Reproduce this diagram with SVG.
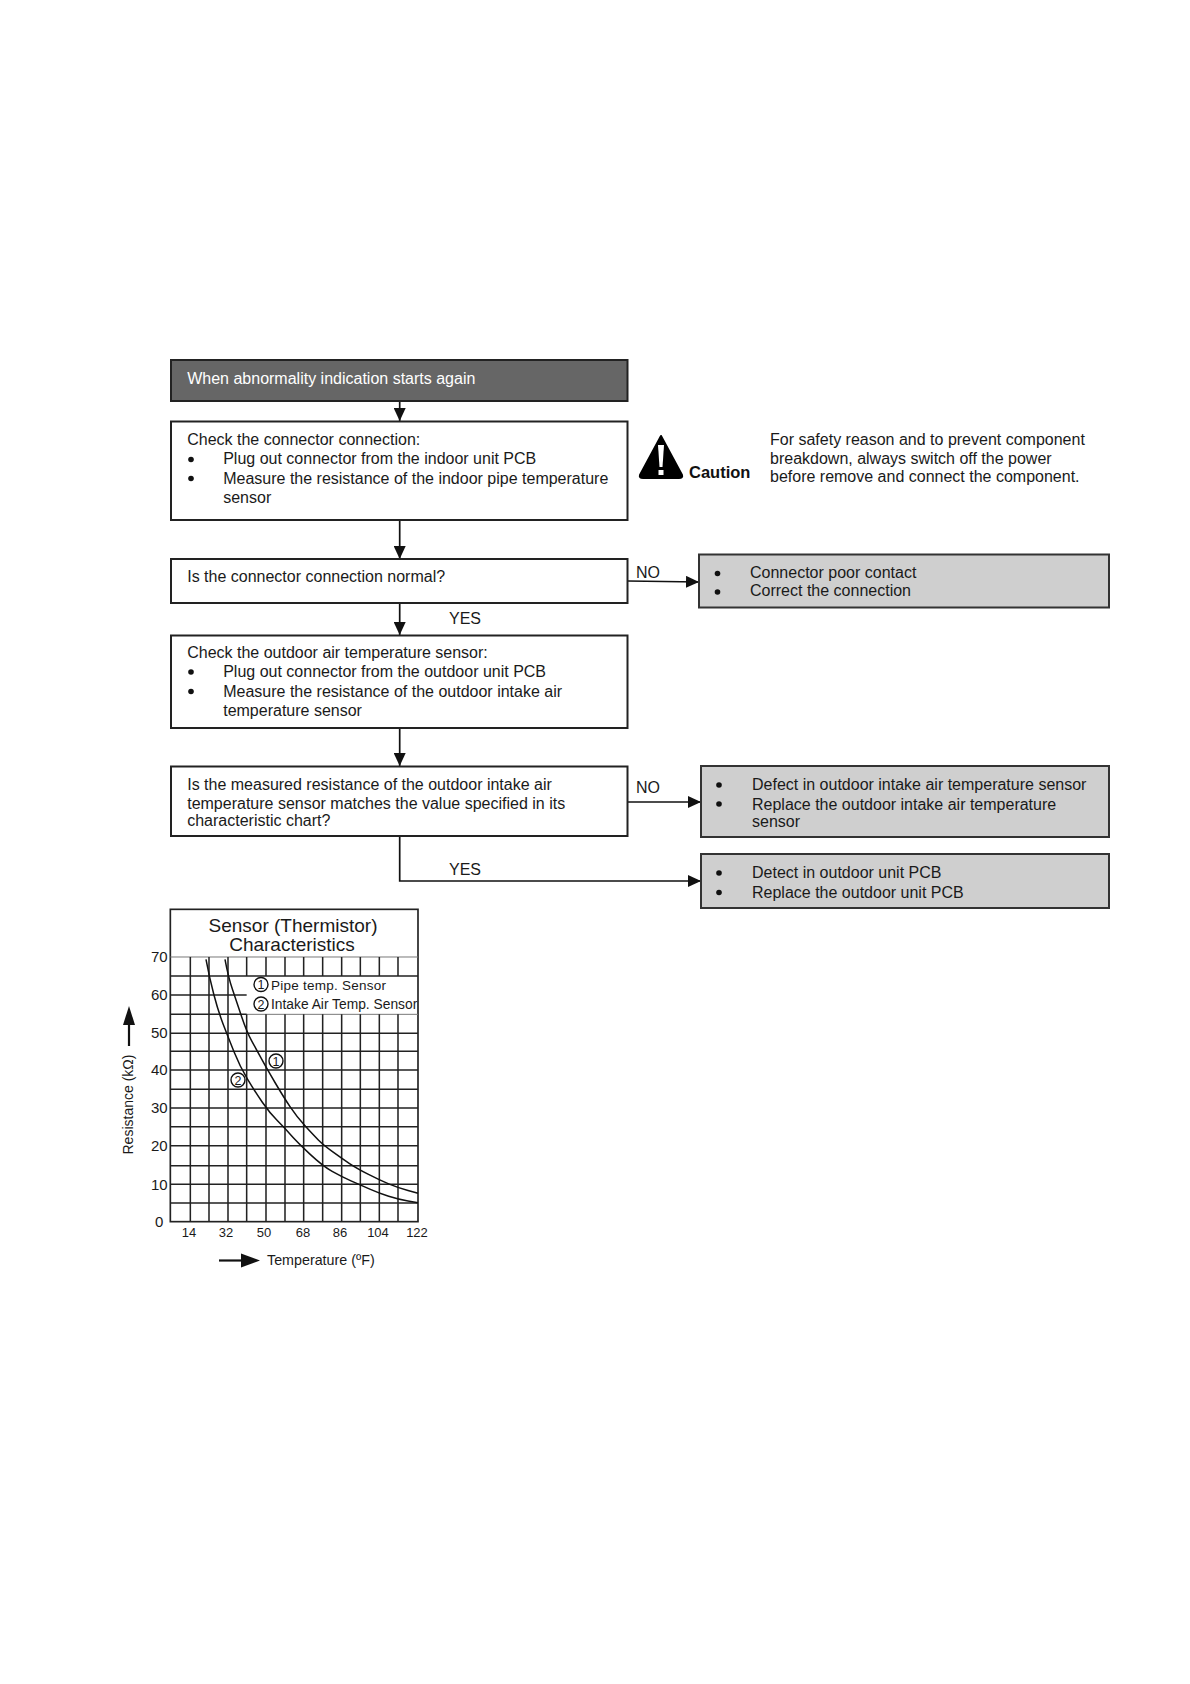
<svg xmlns="http://www.w3.org/2000/svg" width="1190" height="1684" viewBox="0 0 1190 1684">
<style>
text{font-family:"Liberation Sans",Arial,sans-serif;font-size:16px;fill:#1a1a1a}
.box{fill:#fff;stroke:#222;stroke-width:2}
.grey{fill:#cfcfcf;stroke:#333;stroke-width:2}
.dark{fill:#666;stroke:#222;stroke-width:2}
.c{fill:none;stroke:#111;stroke-width:1.7}
.b{fill:#111}
.g{stroke:#222;stroke-width:4.6;fill:none}
.t{stroke:#777;stroke-width:3;fill:none}
.cv{stroke:#111;stroke-width:4.5;fill:none;stroke-linejoin:round}
.n{font-size:15px}
.lg{font-size:13.800px}
.o{fill:none;stroke:#111;stroke-width:1.4}
.d{font-size:12.500px;text-anchor:middle}
.lab{font-size:13px;text-anchor:middle}
.ttl{font-size:19px;text-anchor:middle}
</style>
<defs>
<marker id="a" markerUnits="userSpaceOnUse" markerWidth="13" markerHeight="12" refX="13" refY="6" orient="auto"><path d="M0 0L13 6L0 12Z" fill="#111"/></marker>
</defs>
<rect width="1190" height="1684" fill="#fff"/>
<g id="connectors">
<path class="c" d="M399.700 401V421" marker-end="url(#a)"/>
<path class="c" d="M399.700 520V559" marker-end="url(#a)"/>
<path class="c" d="M399.700 603V635" marker-end="url(#a)"/>
<path class="c" d="M399.700 728V766" marker-end="url(#a)"/>
<path class="c" d="M628 581L699 582" marker-end="url(#a)"/>
<path class="c" d="M628 802H701" marker-end="url(#a)"/>
<path class="c" d="M399.700 836V881H701" marker-end="url(#a)"/>
<text x="636" y="578">NO</text>
<text x="636" y="793">NO</text>
<text x="449" y="624">YES</text>
<text x="449" y="875">YES</text>
</g>
<g id="start"><rect class="dark" x="171" y="360" width="456.500" height="41"/><text x="187.200" y="384" style="fill:#fff">When abnormality indication starts again</text></g>
<g id="check-connector"><rect class="box" x="171" y="421.500" width="456.500" height="98.500"/>
<text x="187.200" y="445">Check the connector connection:</text>
<circle class="b" cx="191" cy="459.500" r="2.800"/><text x="223.200" y="464">Plug out connector from the indoor unit PCB</text>
<circle class="b" cx="191" cy="478.500" r="2.800"/><text x="223.200" y="484">Measure the resistance of the indoor pipe temperature</text>
<text x="223.200" y="503">sensor</text></g>
<g id="q-connector"><rect class="box" x="171" y="559" width="456.500" height="44"/><text x="187.200" y="582">Is the connector connection normal?</text></g>
<g id="check-outdoor"><rect class="box" x="171" y="635.500" width="456.500" height="92.500"/>
<text x="187.200" y="658">Check the outdoor air temperature sensor:</text>
<circle class="b" cx="191" cy="672" r="2.800"/><text x="223.200" y="677">Plug out connector from the outdoor unit PCB</text>
<circle class="b" cx="191" cy="691.500" r="2.800"/><text x="223.200" y="697">Measure the resistance of the outdoor intake air</text>
<text x="223.200" y="716">temperature sensor</text></g>
<g id="q-resistance"><rect class="box" x="171" y="766.500" width="456.500" height="69.500"/>
<text x="187.200" y="790">Is the measured resistance of the outdoor intake air</text>
<text x="187.200" y="808.500">temperature sensor matches the value specified in its</text>
<text x="187.200" y="826">characteristic chart?</text></g>
<g id="result-contact"><rect class="grey" x="699" y="554.500" width="410" height="53"/>
<circle class="b" cx="717.500" cy="573.500" r="2.800"/><text x="750" y="578">Connector poor contact</text>
<circle class="b" cx="717.500" cy="592" r="2.800"/><text x="750" y="596">Correct the connection</text></g>
<g id="result-sensor"><rect class="grey" x="701" y="766" width="408" height="71"/>
<circle class="b" cx="719" cy="785" r="2.800"/><text x="752" y="790">Defect in outdoor intake air temperature sensor</text>
<circle class="b" cx="719" cy="804" r="2.800"/><text x="752" y="809.500">Replace the outdoor intake air temperature</text>
<text x="752" y="827">sensor</text></g>
<g id="result-pcb"><rect class="grey" x="701" y="854" width="408" height="54"/>
<circle class="b" cx="719" cy="873" r="2.800"/><text x="752" y="878">Detect in outdoor unit PCB</text>
<circle class="b" cx="719" cy="892.500" r="2.800"/><text x="752" y="898">Replace the outdoor unit PCB</text></g>
<g id="caution">
<path d="M661 436L682 475Q683 478 679 478H643Q639 478 640 475Z" fill="#000" stroke="#000" stroke-width="2" stroke-linejoin="round"/>
<path d="M658 445h6l-1.500 22h-3Z" fill="#fff"/><rect x="658.500" y="470" width="5" height="5" fill="#fff"/>
<text x="689" y="478" style="font-weight:bold;font-size:16.500px;fill:#111">Caution</text>
<text x="770" y="445">For safety reason and to prevent component</text>
<text x="770" y="463.500">breakdown, always switch off the power</text>
<text x="770" y="482">before remove and connect the component.</text>
</g>
<g id="chart">
<g transform="translate(100 890) scale(.33333)">
<rect x="211" y="58" width="743" height="937" fill="#fff" stroke="#222" stroke-width="5"/>
<path class="t" d="M211 201H954M440 373H954"/>
<path class="g" d="M211 258H954M211 315H440M211 430H954M211 484H954M211 540H954M211 598H954M211 654H954M211 710H954M211 767H954M211 827H954M211 883H954M211 939H954M211 373H440"/>
<path class="g" d="M271 201V995M327 201V995M384 201V995M440 201V258M440 373V995M498 201V258M498 373V995M555 201V258M555 373V995M611 201V258M611 373V995M668 201V258M668 373V995M725 201V258M725 373V995M781 201V258M781 373V995M838 201V258M838 373V995M894 201V258M894 373V995"/>
<path class="cv" d="M375 208Q385 262 397.500 298.500Q410 335 425 380Q440 425 455 452.500Q470 480 485 507.500Q500 535 525 577.500Q550 620 570 650Q590 680 615 707.500Q640 735 655 750Q670 765 697.500 785Q725 805 747.500 820Q770 835 804 852.500Q838 870 866 881.500Q894 893 924 901.500L954 910"/>
<path class="cv" d="M318 208Q328 262 341.500 313.500Q355 365 369.500 402.500Q384 440 402 485Q420 530 442.500 567.500Q465 605 487.500 637.500Q510 670 532.500 692.500Q555 715 572.500 735Q590 755 629 791.500Q668 828 696.500 844Q725 860 753 872.500Q781 885 809.500 897.500Q838 910 866 919Q894 928 924 933L954 938"/>
</g>
<text class="ttl" x="293" y="932">Sensor (Thermistor)</text>
<text class="ttl" x="292" y="951">Characteristics</text>
<circle class="o" cx="261" cy="984.500" r="7"/><text class="d" x="261" y="989">1</text>
<circle class="o" cx="261" cy="1004" r="7"/><text class="d" x="261" y="1008.500">2</text>
<text class="lg" x="271" y="990" style="font-size:13.500px;letter-spacing:.25px">Pipe temp. Sensor</text>
<text class="lg" x="271" y="1009">Intake Air Temp. Sensor</text>
<circle class="o" cx="276" cy="1061" r="7" style="fill:#fff"/><text class="d" x="276" y="1065.500">1</text>
<circle class="o" cx="238" cy="1080" r="7" style="fill:#fff"/><text class="d" x="238" y="1084.500">2</text>
<text class="n" x="151" y="962">70</text><text class="n" x="151" y="1000">60</text><text class="n" x="151" y="1038">50</text><text class="n" x="151" y="1075">40</text><text class="n" x="151" y="1113">30</text><text class="n" x="151" y="1151">20</text><text class="n" x="151" y="1190">10</text><text class="n" x="155" y="1227">0</text>
<text class="lab" x="189" y="1237">14</text><text class="lab" x="226" y="1237">32</text><text class="lab" x="264" y="1237">50</text><text class="lab" x="303" y="1237">68</text><text class="lab" x="340" y="1237">86</text><text class="lab" x="378" y="1237">104</text><text class="lab" x="417" y="1237">122</text>
<text x="0" y="0" transform="translate(133 1154.500) rotate(-90)" style="font-size:14px">Resistance (kΩ)</text>
<text x="267" y="1265" style="font-size:14.300px">Temperature (ºF)</text>
<path d="M129 1046V1022" stroke="#111" stroke-width="2.200"/><path d="M123 1025L129 1006L135 1025Z" fill="#111"/>
<path d="M219 1260.500H244" stroke="#111" stroke-width="2.200"/><path d="M241 1253.500L260 1260.500L241 1267.500Z" fill="#111"/>
</g>
</svg>
